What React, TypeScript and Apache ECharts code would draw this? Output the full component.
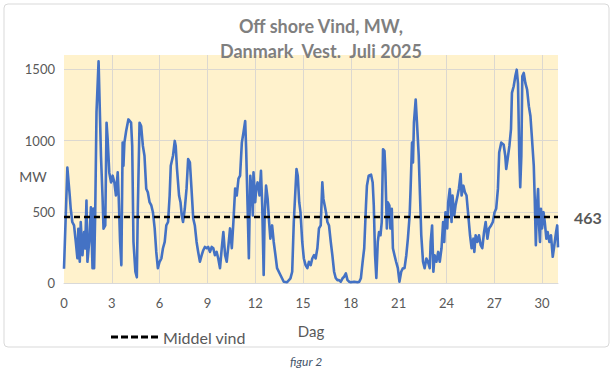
import React, { useEffect, useRef } from "react";
import * as echarts from "echarts";

const TITLE = "Off shore Vind, MW,\nDanmark  Vest.  Juli 2025";
const X_TICKS = [0, 3, 6, 9, 12, 15, 18, 21, 24, 27, 30];
const Y_TICKS = [0, 500, 1000, 1500];
const AVG = 463;
const AVG_NAME = "Middel vind";
const Y_NAME = "MW";
const X_NAME = "Dag";
const CAPTION = "figur 2";

const DAYS = [
  0.0, 0.21, 0.36, 0.42, 0.52, 0.63, 0.74, 0.84, 0.9, 0.99, 1.05, 1.16, 1.26, 1.33, 1.41, 1.47, 1.58, 1.69, 1.79, 1.85,
  1.89, 1.96, 2.04, 2.17, 2.32, 2.42, 2.48, 2.59, 2.67, 2.74, 2.84, 2.95, 3.05, 3.16, 3.26, 3.37, 3.43, 3.52, 3.6, 3.68,
  3.73, 3.79, 3.9, 4.04, 4.21, 4.28, 4.36, 4.48, 4.57, 4.63, 4.74, 4.84, 4.95, 5.05, 5.16, 5.26, 5.37, 5.48, 5.58, 5.69,
  5.79, 5.89, 6.0, 6.11, 6.21, 6.32, 6.42, 6.53, 6.63, 6.7, 6.84, 6.95, 7.01, 7.09, 7.22, 7.31, 7.39, 7.47, 7.58, 7.69,
  7.79, 7.9, 8.0, 8.11, 8.21, 8.32, 8.42, 8.53, 8.64, 8.74, 8.84, 8.95, 9.05, 9.16, 9.27, 9.37, 9.47, 9.58, 9.68, 9.79,
  9.9, 10.0, 10.11, 10.21, 10.32, 10.42, 10.53, 10.63, 10.74, 10.84, 10.95, 11.05, 11.16, 11.26, 11.37, 11.43, 11.52, 11.6, 11.69, 11.79,
  11.85, 11.89, 12.0, 12.06, 12.15, 12.27, 12.36, 12.44, 12.53, 12.59, 12.68, 12.78, 12.87, 12.95, 13.06, 13.16, 13.27, 13.37, 13.58, 13.79,
  14.0, 14.21, 14.32, 14.42, 14.59, 14.67, 14.76, 14.84, 14.95, 15.05, 15.16, 15.27, 15.37, 15.48, 15.58, 15.69, 15.79, 15.9, 16.0, 16.11,
  16.21, 16.28, 16.36, 16.44, 16.53, 16.63, 16.74, 16.84, 16.95, 17.05, 17.16, 17.26, 17.37, 17.48, 17.58, 17.69, 17.79, 17.9, 18.0, 18.21,
  18.42, 18.53, 18.63, 18.74, 18.84, 18.95, 19.01, 19.12, 19.27, 19.37, 19.44, 19.52, 19.6, 19.69, 19.77, 19.86, 19.94, 20.02, 20.11, 20.17,
  20.26, 20.32, 20.42, 20.48, 20.57, 20.64, 20.74, 20.84, 20.95, 21.05, 21.16, 21.27, 21.37, 21.48, 21.58, 21.69, 21.75, 21.84, 21.9, 21.96,
  22.07, 22.15, 22.26, 22.34, 22.42, 22.53, 22.63, 22.74, 22.84, 22.95, 23.01, 23.1, 23.18, 23.26, 23.37, 23.48, 23.58, 23.69, 23.79, 23.86,
  23.94, 24.05, 24.11, 24.21, 24.32, 24.38, 24.49, 24.57, 24.7, 24.78, 24.89, 24.95, 25.06, 25.16, 25.26, 25.37, 25.48, 25.58, 25.69, 25.75,
  25.83, 25.94, 26.04, 26.15, 26.25, 26.36, 26.46, 26.57, 26.67, 26.8, 26.91, 27.02, 27.12, 27.23, 27.31, 27.44, 27.59, 27.69, 27.75, 27.84,
  27.95, 28.05, 28.11, 28.22, 28.32, 28.41, 28.49, 28.57, 28.63, 28.7, 28.76, 28.85, 28.95, 29.06, 29.17, 29.27, 29.37, 29.48, 29.54, 29.61,
  29.67, 29.75, 29.81, 29.87, 29.93, 30.0, 30.09, 30.17, 30.27, 30.35, 30.46, 30.56, 30.67, 30.77, 30.88, 30.95, 31.0,
];

const MW = [
  100, 810, 614, 523, 428, 404, 288, 174, 381, 149, 428, 195, 358, 242, 579, 149, 288, 532, 104, 523,
  104, 500, 1200, 1555, 893, 600, 381, 404, 1125, 1009, 776, 706, 753, 706, 614, 776, 614, 288, 125, 985,
  823, 985, 1067, 1148, 1125, 962, 288, 79, 40, 500, 1125, 1102, 962, 893, 662, 637, 567, 544, 497, 383,
  218, 104, 149, 172, 244, 288, 404, 428, 614, 823, 893, 997, 962, 802, 614, 567, 474, 428, 521, 662,
  870, 846, 662, 453, 404, 288, 218, 149, 195, 230, 253, 244, 253, 218, 253, 244, 195, 218, 172, 104,
  244, 358, 195, 149, 265, 383, 244, 428, 662, 614, 732, 753, 985, 1055, 1137, 941, 544, 174, 753, 614,
  474, 776, 567, 662, 706, 614, 788, 544, 56, 474, 683, 590, 428, 311, 404, 288, 195, 104, 56, 9,
  5, 33, 79, 428, 800, 753, 567, 497, 288, 172, 125, 104, 149, 125, 172, 195, 172, 244, 383, 404,
  706, 590, 544, 497, 428, 404, 288, 195, 79, 35, 20, 20, 9, 33, 44, 67, 20, 9, 5, 9,
  5, 9, 33, 149, 244, 544, 683, 753, 760, 706, 544, 195, 35, 288, 358, 335, 428, 939, 928, 776,
  383, 567, 544, 383, 521, 244, 195, 149, 104, 9, 79, 104, 104, 195, 311, 474, 662, 985, 846, 1125,
  1288, 1125, 893, 614, 335, 149, 104, 172, 149, 104, 288, 404, 79, 195, 149, 218, 149, 244, 428, 288,
  497, 383, 567, 660, 428, 614, 474, 544, 614, 662, 765, 614, 683, 637, 614, 474, 335, 244, 311, 218,
  335, 288, 335, 265, 244, 358, 428, 311, 383, 404, 428, 497, 521, 662, 916, 985, 970, 893, 800, 870,
  962, 1079, 1334, 1381, 1450, 1497, 1400, 893, 672, 893, 1450, 1474, 1404, 1358, 1241, 1172, 1009, 823, 590, 265,
  521, 660, 404, 288, 521, 383, 497, 428, 311, 358, 288, 335, 184, 265, 358, 404, 250,
];

const FONT = "Lato, 'Open Sans', sans-serif";
const X_MAX = 31;
const Y_MAX = 1600;
const DASH_ICON =
  "path://M0 0h7v3H0z M10 0h7v3h-7z M20 0h7v3h-7z M30 0h7v3h-7z M40 0h7v3h-7z";

export default function App() {
  const ref = useRef<HTMLDivElement>(null);

  useEffect(() => {
    if (!ref.current) return;
    const chart = echarts.init(ref.current, undefined, { renderer: "svg" });
    const windData = DAYS.map((d, i) => [d, MW[i]]);
    const avgData = [
      [0, AVG],
      [X_MAX, AVG],
    ];
    chart.setOption({
      animation: false,
      backgroundColor: "#ffffff",
      textStyle: { fontFamily: FONT },
      title: {
        text: TITLE,
        left: 316,
        textAlign: "center",
        top: 8,
        textStyle: {
          fontFamily: FONT,
          fontSize: 18,
          fontWeight: "bold",
          color: "#7f7f7f",
          lineHeight: 25,
        },
      },
      grid: {
        left: 64,
        top: 55,
        width: 494,
        height: 228,
        show: true,
        backgroundColor: "#FFF2CC",
        borderWidth: 0,
        containLabel: false,
        outerBoundsMode: "none",
      },
      legend: {
        data: [
          {
            name: AVG_NAME,
            icon: DASH_ICON,
            itemStyle: { color: "#000000", borderWidth: 0 },
          },
        ],
        left: 106,
        top: 324,
        itemWidth: 47,
        itemHeight: 3,
        itemGap: 4,
        textStyle: { fontFamily: FONT, fontSize: 16, color: "#595959" },
      },
      xAxis: {
        type: "value",
        min: 0,
        max: X_MAX,
        interval: 3,
        name: X_NAME,
        nameLocation: "middle",
        nameGap: 40,
        nameTextStyle: { fontFamily: FONT, fontSize: 15, color: "#595959" },
        axisLine: { show: true, lineStyle: { color: "#d9d9d9", width: 1 } },
        axisTick: { show: false },
        axisLabel: {
          color: "#595959",
          fontSize: 13,
          margin: 13,
          showMaxLabel: false,
          formatter: (v: number) => (X_TICKS.includes(v) ? String(v) : ""),
        },
        splitLine: {
          show: true,
          showMinLine: false,
          showMaxLine: false,
          lineStyle: { color: "#dcd8d0", width: 1 },
        },
      },
      yAxis: {
        type: "value",
        min: 0,
        max: Y_MAX,
        interval: 500,
        axisLine: { show: false },
        axisTick: { show: false },
        axisLabel: {
          color: "#595959",
          fontSize: 13,
          margin: 9,
          showMaxLabel: false,
          formatter: (v: number) => (Y_TICKS.includes(v) ? String(v) : ""),
        },
        splitLine: {
          show: true,
          showMinLine: false,
          showMaxLine: false,
          lineStyle: { color: "#dcd8d0", width: 1 },
        },
      },
      series: [
        {
          name: "Vind",
          type: "line",
          data: windData,
          showSymbol: false,
          symbol: "none",
          lineStyle: { color: "#4472C4", width: 2.6, join: "round" },
          z: 2,
        },
        {
          name: AVG_NAME,
          type: "line",
          data: avgData,
          symbol: "none",
          showSymbol: false,
          lineStyle: { color: "#000000", width: 2.5, type: [6, 4] },
          itemStyle: { color: "#000000" },
          z: 3,
          endLabel: {
            show: true,
            formatter: () => String(AVG),
            distance: 16,
            fontFamily: FONT,
            fontSize: 16,
            fontWeight: "bold",
            color: "#595959",
          },
        },
      ],
      graphic: [
        {
          type: "rect",
          shape: { x: 4, y: 4, width: 605, height: 343, r: 4 },
          style: { fill: "none", stroke: "#d9d9d9", lineWidth: 1 },
          silent: true,
          z: -10,
        },
        {
          type: "text",
          x: 33,
          y: 176,
          style: {
            text: Y_NAME,
            fontFamily: FONT,
            fontSize: 14,
            fill: "#595959",
            align: "center",
            verticalAlign: "middle",
          },
          silent: true,
        },
        {
          type: "text",
          x: 306,
          y: 361,
          style: {
            text: CAPTION,
            fontFamily: FONT,
            fontSize: 12,
            fontStyle: "italic",
            fill: "#44546A",
            align: "center",
            verticalAlign: "middle",
          },
          silent: true,
        },
      ],
    });
    return () => chart.dispose();
  }, []);

  return (
    <div
      ref={ref}
      style={{ position: "absolute", left: 0, top: 0, width: 615, height: 372 }}
    />
  );
}
